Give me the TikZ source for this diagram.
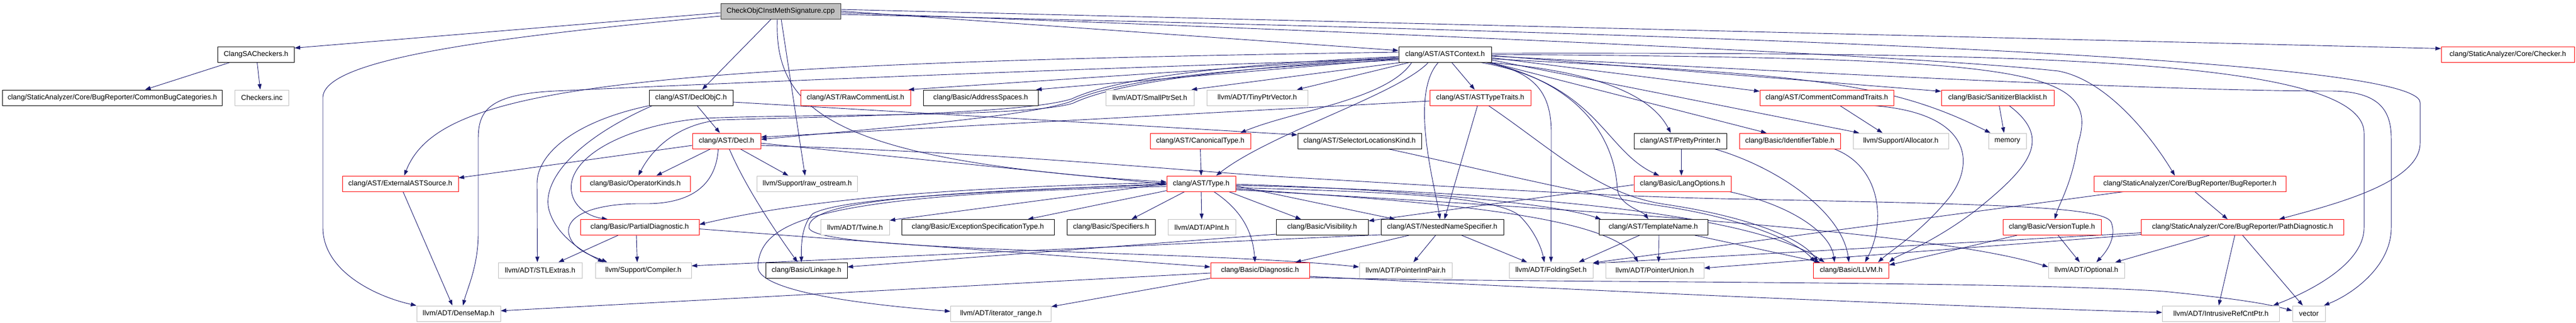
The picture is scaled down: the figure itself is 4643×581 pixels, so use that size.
\documentclass[tikz,border=0pt]{standalone}
\usepackage{fontspec}
\setmainfont{Liberation Sans}
\usetikzlibrary{arrows.meta,backgrounds}
\definecolor{edgec}{HTML}{191970}
\definecolor{graybd}{HTML}{BFBFBF}
\definecolor{redbd}{HTML}{FF0000}
\tikzset{
  nd/.style={rectangle, line width=1pt, fill=white, minimum height=28pt, inner sep=0pt, font=\fontsize{12.9pt}{15pt}\selectfont, text=black},
  blk/.style={nd, draw=black},
  rnd/.style={nd, draw=redbd},
  gnd/.style={nd, draw=graybd},
  rootnd/.style={nd, draw=black!80, fill=graybd},
  dep/.style={draw=edgec, line width=0.9pt, -{Triangle[length=10pt,width=7pt]}},
}
\begin{document}
\begin{tikzpicture}[x=1pt,y=-1pt]
\useasboundingbox (0,0) rectangle (4643,581);
% nodes
\node[rootnd, minimum width=216pt] (root) at (1407,20) {CheckObjCInstMethSignature.cpp};
\node[blk, minimum width=138pt] (sac) at (461.5,98) {ClangSACheckers.h};
\node[blk, minimum width=167pt] (ac) at (2604.5,98) {clang/AST/ASTContext.h};
\node[rnd, minimum width=240pt] (chk) at (4520,98) {clang/StaticAnalyzer/Core/Checker.h};
\node[blk, minimum width=396pt] (cbc) at (202.5,176) {clang/StaticAnalyzer/Core/BugReporter/CommonBugCategories.h};
\node[gnd, minimum width=97pt] (cinc) at (472,176) {Checkers.inc};
\node[blk, minimum width=151pt] (dobjc) at (1245.5,176) {clang/AST/DeclObjC.h};
\node[rnd, minimum width=198pt] (rcl) at (1542,176) {clang/AST/RawCommentList.h};
\node[blk, minimum width=207pt] (addr) at (1767.5,176) {clang/Basic/AddressSpaces.h};
\node[gnd, minimum width=159pt] (sps) at (2072.5,176) {llvm/ADT/SmallPtrSet.h};
\node[gnd, minimum width=182pt] (tpv) at (2266,176) {llvm/ADT/TinyPtrVector.h};
\node[rnd, minimum width=182pt] (att) at (2668,176) {clang/AST/ASTTypeTraits.h};
\node[rnd, minimum width=241pt] (cct) at (3292.5,176) {clang/AST/CommentCommandTraits.h};
\node[rnd, minimum width=203pt] (sbl) at (3600.5,176) {clang/Basic/SanitizerBlacklist.h};
\node[rnd, minimum width=123pt] (decl) at (1309.5,254) {clang/AST/Decl.h};
\node[rnd, minimum width=181pt] (canon) at (2163.5,254) {clang/AST/CanonicalType.h};
\node[blk, minimum width=223pt] (slk) at (2450.5,254) {clang/AST/SelectorLocationsKind.h};
\node[blk, minimum width=167pt] (pp) at (3028.5,254) {clang/AST/PrettyPrinter.h};
\node[rnd, minimum width=182pt] (idt) at (3226,254) {clang/Basic/IdentifierTable.h};
\node[gnd, minimum width=172pt] (alloc) at (3426,254) {llvm/Support/Allocator.h};
\node[gnd, minimum width=68pt] (mem) at (3618,254) {memory};
\node[rnd, minimum width=209pt] (ext) at (721.5,331) {clang/AST/ExternalASTSource.h};
\node[rnd, minimum width=198pt] (opk) at (1145,331) {clang/Basic/OperatorKinds.h};
\node[gnd, minimum width=181pt] (ros) at (1455,331) {llvm/Support/raw\_ostream.h};
\node[rnd, minimum width=124pt] (type) at (2165,331) {clang/AST/Type.h};
\node[rnd, minimum width=175pt] (lo) at (3032.5,331) {clang/Basic/LangOptions.h};
\node[rnd, minimum width=346pt] (br) at (3947,331) {clang/StaticAnalyzer/Core/BugReporter/BugReporter.h};
\node[rnd, minimum width=214pt] (pdiag) at (1153,409.5) {clang/Basic/PartialDiagnostic.h};
\node[gnd, minimum width=124pt] (twine) at (1541,409.5) {llvm/ADT/Twine.h};
\node[blk, minimum width=275pt] (est) at (1762.5,409.5) {clang/Basic/ExceptionSpecificationType.h};
\node[blk, minimum width=159pt] (spec) at (2002.5,409.5) {clang/Basic/Specifiers.h};
\node[gnd, minimum width=122pt] (apint) at (2166,409.5) {llvm/ADT/APInt.h};
\node[blk, minimum width=166pt] (vis) at (2383,409.5) {clang/Basic/Visibility.h};
\node[blk, minimum width=221pt] (nns) at (2599.5,409.5) {clang/AST/NestedNameSpecifier.h};
\node[blk, minimum width=196pt] (tn) at (2980,409.5) {clang/AST/TemplateName.h};
\node[rnd, minimum width=177pt] (vt) at (3698.5,409.5) {clang/Basic/VersionTuple.h};
\node[rnd, minimum width=365pt] (pathd) at (4042,409.5) {clang/StaticAnalyzer/Core/BugReporter/PathDiagnostic.h};
\node[gnd, minimum width=151pt] (stl) at (973.5,487) {llvm/ADT/STLExtras.h};
\node[gnd, minimum width=173pt] (comp) at (1159.5,487) {llvm/Support/Compiler.h};
\node[blk, minimum width=147pt] (link) at (1453.5,487) {clang/Basic/Linkage.h};
\node[rnd, minimum width=178pt] (diag) at (2271,487) {clang/Basic/Diagnostic.h};
\node[gnd, minimum width=167pt] (pip) at (2533.5,487) {llvm/ADT/PointerIntPair.h};
\node[gnd, minimum width=151pt] (fs) at (2795.5,487) {llvm/ADT/FoldingSet.h};
\node[gnd, minimum width=177pt] (pu) at (2982.5,487) {llvm/ADT/PointerUnion.h};
\node[rnd, minimum width=136pt] (llvm) at (3336.5,487) {clang/Basic/LLVM.h};
\node[gnd, minimum width=137pt] (opt) at (3760.5,487) {llvm/ADT/Optional.h};
\node[gnd, minimum width=151pt] (dmap) at (826.5,565) {llvm/ADT/DenseMap.h};
\node[gnd, minimum width=181pt] (itr) at (1804,565) {llvm/ADT/iterator\_range.h};
\node[gnd, minimum width=211pt] (ircp) at (4003,565) {llvm/ADT/IntrusiveRefCntPtr.h};
\node[gnd, minimum width=59pt] (vec) at (4161.5,565) {vector};

\begin{pgfonlayer}{background}
\fill[white] (0,0) rectangle (4643,581);
% root
\draw[dep] ([yshift=-3pt]root.west) -- ([yshift=-3pt]sac.north east);
\draw[dep] ([yshift=-9pt]root.west) .. controls (850,70) and (585,110) .. (582,175) -- (582,410) .. controls (582,490) and (680,535) .. (dmap.north west);
\draw[dep] ([xshift=-17pt]root.south) -- ([xshift=20pt]dobjc.north);
\draw[dep] ([xshift=1pt]root.south) -- ([xshift=-4pt]ros.north);
\draw[dep] ([xshift=-6pt]root.south) .. controls (1395,200) and (1500,290) .. ([yshift=3pt]type.west);
\draw[dep] (root.east) -- ([yshift=7pt]ac.west);
\draw[dep] ([yshift=3pt]root.east) -- ([yshift=-4pt]chk.north west);
\draw[dep] ([yshift=-3pt]root.east) .. controls (2800,70) and (3500,105) .. (3710,128) .. controls (3800,145) and (3880,250) .. ([xshift=-27pt]br.north);
\draw[dep] ([yshift=-6pt]root.east) .. controls (3000,60) and (4362,100) .. (4362,185) -- (4362,258) .. controls (4362,330) and (4200,370) .. ([xshift=66pt]pathd.north);
% sac
\draw[dep] ([xshift=-47pt]sac.south) -- ([xshift=59pt]cbc.north);
\draw[dep] ([xshift=2pt]sac.south) -- ([xshift=-3pt]cinc.north);
% ac
\draw[dep] ([yshift=-5pt]ac.west) -- ([xshift=-4pt]rcl.north east);
\draw[dep] ([yshift=-8pt]ac.west) -- ([xshift=-4pt]addr.north east);
\draw[dep] ([xshift=5pt]ac.south west) -- ([xshift=-5pt]sps.north east);
\draw[dep] ([xshift=20pt]ac.south west) -- ([xshift=-20pt]tpv.north east);
\draw[dep] ([xshift=12pt]ac.south) -- ([xshift=-10pt]att.north);
\draw[dep] ([yshift=-6pt]ac.east) -- ([yshift=-3pt]cct.north west);
\draw[dep] ([yshift=-2pt]ac.east) -- ([yshift=-3pt]sbl.north west);
\draw[dep] ([yshift=-10pt]ac.west) .. controls (2300,120) and (2030,135) .. (1930,183) .. controls (1850,210) and (1600,230) .. ([yshift=3pt]decl.east);
\draw[dep] ([yshift=-4pt]ac.west) .. controls (2300,112) and (2030,132) .. (1932,178) .. controls (1850,205) and (1500,210) .. (1300,216) .. controls (1230,222) and (1180,260) .. ([xshift=-94pt]opk.north east);
\draw[dep] ([yshift=-7pt]ac.west) .. controls (2300,118) and (2030,140) .. (1934,186) .. controls (1850,212) and (1450,205) .. (1272,213) .. controls (1150,222) and (1040,270) .. (1030,330) .. controls (1025,370) and (1060,390) .. ([xshift=-58pt]pdiag.north);
\draw[dep] ([xshift=-60pt]ac.south) .. controls (2500,180) and (2330,200) .. ([xshift=72pt]canon.north);
\draw[dep] ([xshift=-30pt]ac.south) .. controls (2520,170) and (2290,240) .. ([xshift=27pt]type.north);
\draw[dep] ([xshift=-6pt]ac.south east) .. controls (2900,130) and (2980,180) .. ([xshift=-17pt]pp.north);
\draw[dep] ([xshift=-2pt]ac.south east) -- ([xshift=-42pt]idt.north);
\draw[dep] ([yshift=-10pt]ac.east) -- ([xshift=-75pt]alloc.north);
\draw[dep] ([yshift=-8pt]ac.east) .. controls (3250,135) and (3400,145) .. ([xshift=4pt]mem.north west);
\draw[dep] ([yshift=4pt]ac.west) .. controls (1100,115) and (790,160) .. ([xshift=7pt]ext.north);
\draw[dep] ([xshift=-20pt]ac.south east) .. controls (2880,150) and (2890,270) .. ([xshift=-42pt]lo.north);
\draw[dep] ([xshift=-12pt]ac.south) .. controls (2540,170) and (2585,330) .. ([xshift=-4pt]nns.north);
\draw[dep] ([xshift=-8pt]ac.south east) .. controls (2850,150) and (2910,250) .. (2915,340) .. controls (2918,370) and (2960,380) .. ([xshift=-9pt]tn.north);
\draw[dep] ([xshift=-10pt]ac.south east) .. controls (2770,130) and (2796,170) .. (2796,240) -- (fs.north);
\draw[dep] (ac.east) .. controls (3650,105) and (3790,120) .. (3745,260) .. controls (3735,330) and (3710,370) .. ([xshift=5pt]vt.north);
\draw[dep] ([yshift=2pt]ac.east) .. controls (3600,95) and (4261,100) .. (4261,240) -- (4261,410) .. controls (4261,480) and (4150,530) .. ([xshift=-12pt]ircp.north east);
\draw[dep] ([yshift=-3pt]ac.east) .. controls (3600,150) and (4000,164) .. (4200,164) .. controls (4290,164) and (4310,200) .. (4310,250) -- (4310,410) .. controls (4310,480) and (4240,530) .. ([xshift=-3pt]vec.north east);
\draw[dep] ([yshift=-8pt]ac.west) .. controls (1900,125) and (1300,150) .. (1000,164) .. controls (880,170) and (862,200) .. (862,250) -- (862,420) .. controls (862,480) and (842,520) .. ([xshift=8pt]dmap.north);
% decl
\draw[dep] ([yshift=-8pt]decl.west) -- ([yshift=-4pt]ext.north east);
\draw[dep] ([xshift=-29pt]decl.south) -- ([xshift=38pt]opk.north);
\draw[dep] ([xshift=25pt]decl.south) -- ([xshift=-34pt]ros.north);
\draw[dep] ([xshift=5pt]decl.south) .. controls (1345,340) and (1400,420) .. ([xshift=-16pt]link.north);
\draw[dep] ([xshift=-15pt]decl.south) .. controls (1290,345) and (1230,368) .. (1160,367) .. controls (1080,366) and (1020,385) .. (1025,420) .. controls (1030,450) and (1070,462) .. ([xshift=-65pt]comp.north);
\draw[dep] ([yshift=-4pt]decl.east) -- ([yshift=-1pt]type.west);
\draw[dep] ([yshift=-8pt]decl.east) .. controls (1800,275) and (2100,305) .. (2300,318) .. controls (2600,335) and (2850,352) .. (3100,358) .. controls (3600,368) and (3790,372) .. (3805,400) .. controls (3815,425) and (3800,450) .. ([xshift=18pt]opt.north);
% dobjc
\draw[dep] ([xshift=11pt]dobjc.south) -- ([xshift=-12pt]decl.north);
\draw[dep] ([yshift=-8pt]dobjc.east) -- ([yshift=11pt]slk.west);
\draw[dep] (dobjc.south west) .. controls (1030,220) and (968,280) .. (968,330) -- ([xshift=-5pt]stl.north);
\draw[dep] ([xshift=6pt]dobjc.south west) .. controls (1030,255) and (975,330) .. (990,380) .. controls (1005,430) and (1060,458) .. ([xshift=-72pt]comp.north);
% misc
\draw[dep] ([xshift=5pt]ext.south) -- ([xshift=-11pt]dmap.north);
\draw[dep] (canon.south) -- (type.north);
% type
\draw[dep] ([yshift=2pt]type.south west) -- ([xshift=-48pt]est.north east);
\draw[dep] ([xshift=-30pt]type.south) -- ([xshift=37pt]spec.north);
\draw[dep] (type.south) -- (apint.north);
\draw[dep] ([xshift=23pt]type.south) .. controls (2240,380) and (2258,420) .. ([xshift=-9pt]diag.north);
\draw[dep] ([xshift=50pt]type.south) -- ([xshift=-38pt]vis.north);
\draw[dep] ([yshift=-4pt]type.east) -- ([xshift=-85pt]nns.north);
\draw[dep] ([yshift=-1pt]type.east) .. controls (2500,340) and (2800,365) .. ([xshift=4pt]tn.north west);
\draw[dep] ([yshift=-7pt]type.east) .. controls (2450,345) and (2700,350) .. (2740,390) .. controls (2765,415) and (2778,445) .. ([xshift=-12pt]fs.north);
\draw[dep] ([yshift=-2pt]type.west) .. controls (1700,345) and (1455,360) .. (1458,410) .. controls (1462,455) and (2150,450) .. ([yshift=6pt]pip.west);
\draw[dep] ([yshift=-5pt]type.west) .. controls (1480,350) and (1370,395) .. (1366,480) .. controls (1364,530) and (1600,552) .. ([yshift=4pt]itr.west);
\draw[dep] ([yshift=2pt]type.west) .. controls (1700,338) and (1450,360) .. ([yshift=5pt]pdiag.east);
\draw[dep] (type.west) -- ([yshift=-2pt]twine.north east);
\draw[dep] (type.west) .. controls (1800,345) and (1520,355) .. (1465,385) .. controls (1445,405) and (1444,440) .. ([xshift=-9pt]link.north);
\draw[dep] ([yshift=-9pt]type.east) .. controls (2500,360) and (2900,380) .. ([xshift=-30pt]pu.north);
\draw[dep] ([yshift=-3pt]type.east) .. controls (2700,345) and (3150,380) .. ([xshift=-48pt]llvm.north);
\draw[dep] ([yshift=-11pt]type.east) .. controls (2900,380) and (3500,420) .. ([yshift=6pt]opt.west);
% nns, vis
\draw[dep] ([xshift=-60pt]nns.south) -- ([xshift=64pt]diag.north);
\draw[dep] ([xshift=-12pt]nns.south) -- ([xshift=14pt]pip.north);
\draw[dep] ([xshift=35pt]nns.south) -- ([xshift=-43pt]fs.north);
\draw[dep] ([yshift=1pt]nns.south west) -- ([yshift=8pt]comp.east);
\draw[dep] ([yshift=2pt]vis.south west) -- ([yshift=6pt]link.east);
% tn
\draw[dep] ([xshift=-25pt]tn.south) -- ([xshift=50pt]fs.north);
\draw[dep] ([xshift=10pt]tn.south) -- ([xshift=7pt]pu.north);
\draw[dep] ([xshift=75pt]tn.south) -- ([xshift=-56pt]llvm.north);
% lo, pp, idt
\draw[dep] ([yshift=-2pt]lo.west) -- ([yshift=-3pt]vis.north east);
\draw[dep] ([xshift=-3pt]lo.south east) .. controls (3230,370) and (3300,420) .. ([xshift=-30pt]llvm.north);
\draw[dep] ([xshift=2pt]pp.south) -- ([xshift=-2pt]lo.north);
\draw[dep] ([xshift=-22pt]pp.south east) .. controls (3200,300) and (3320,380) .. ([xshift=-4pt]llvm.north);
\draw[dep] ([xshift=80pt]idt.south) .. controls (3390,300) and (3400,400) .. ([xshift=25pt]llvm.north);
% cct, sbl
\draw[dep] ([xshift=24pt]cct.south) -- ([xshift=-33pt]alloc.north);
\draw[dep] ([xshift=-35pt]cct.south east) .. controls (3560,205) and (3560,300) .. (3510,360) .. controls (3460,420) and (3410,450) .. ([xshift=-20pt]llvm.north east);
\draw[dep] ([xshift=3pt]sbl.south) -- ([xshift=-6pt]mem.north);
\draw[dep] ([xshift=21pt]sbl.south) .. controls (3700,250) and (3660,300) .. (3560,380) .. controls (3480,440) and (3420,460) .. (llvm.north east);
% att, slk
\draw[dep] ([yshift=-6pt]att.west) -- ([yshift=7pt]decl.east);
\draw[dep] ([xshift=-5pt]att.south) -- ([xshift=4pt]nns.north);
\draw[dep] ([xshift=15pt]att.south) .. controls (2800,270) and (2880,350) .. (3000,368) .. controls (3150,390) and (3250,430) .. ([xshift=-60pt]llvm.north);
\draw[dep] ([xshift=52pt]slk.south) .. controls (2650,300) and (2850,350) .. (3000,372) .. controls (3140,393) and (3240,435) .. ([xshift=-65pt]llvm.north);
% vt, br, pathd
\draw[dep] ([xshift=-63pt]vt.south) -- ([yshift=-5pt]llvm.north east);
\draw[dep] ([xshift=11pt]vt.south) -- ([xshift=-12pt]opt.north);
\draw[dep] ([xshift=9pt]br.south) -- ([xshift=-27pt]pathd.north);
\draw[dep] ([xshift=-120pt]br.south) -- ([yshift=-1pt]fs.north east);
\draw[dep] ([xshift=-60pt]pathd.south) -- ([xshift=52pt]opt.north);
\draw[dep] ([xshift=-14pt]pathd.south) -- ([xshift=-4pt]ircp.north);
\draw[dep] (pathd.south) -- ([xshift=-11pt]vec.north);
\draw[dep] ([yshift=-10pt]pathd.west) -- ([yshift=-2pt]fs.north east);
\draw[dep] ([yshift=-13pt]pathd.west) -- ([yshift=4pt]pu.east);
% diag
\draw[dep] ([yshift=-5pt]diag.west) -- ([yshift=5pt]dmap.east);
\draw[dep] (diag.south west) -- ([yshift=-2pt]itr.north east);
\draw[dep] ([yshift=-11pt]diag.east) .. controls (2700,515) and (3300,545) .. ([yshift=2pt]ircp.west);
\draw[dep] ([yshift=-13pt]diag.east) .. controls (2700,510) and (3600,505) .. (3900,525) .. controls (4000,535) and (4080,545) .. ([yshift=5pt]vec.west);
% pdiag
\draw[dep] ([xshift=-6pt]pdiag.south) -- ([xshift=-11pt]comp.north);
\draw[dep] ([xshift=-39pt]pdiag.south) -- ([xshift=33pt]stl.north);
\draw[dep] ([yshift=-3pt]pdiag.east) -- ([yshift=6pt]diag.west);
\end{pgfonlayer}
\end{tikzpicture}
\end{document}
